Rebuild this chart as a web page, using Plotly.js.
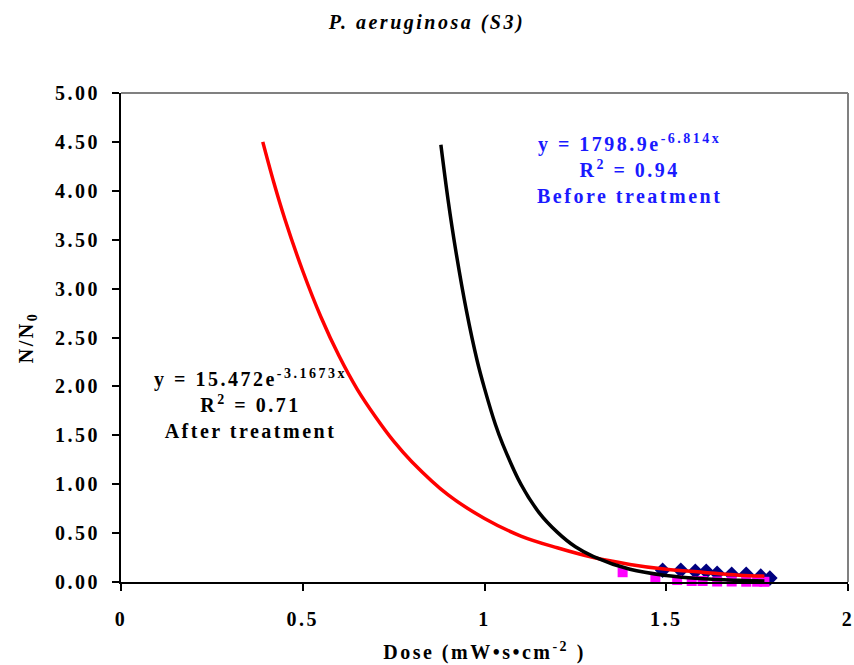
<!DOCTYPE html>
<html>
<head>
<meta charset="utf-8">
<script src="https://cdn.plot.ly/plotly-3.0.1.min.js"></script>
<style>
html,body{margin:0;padding:0;background:#fff;}
#chart{width:854px;height:665px;}
svg text{letter-spacing:2.5px;}
</style>
</head>
<body>
<div id="chart"></div>
<script>
const beforeX = [1.49, 1.54, 1.58, 1.61, 1.64, 1.68, 1.72, 1.76, 1.785];
const beforeY = [0.12, 0.12, 0.11, 0.11, 0.09, 0.08, 0.08, 0.06, 0.04];
const afterX = [1.38, 1.47, 1.53, 1.57, 1.60, 1.64, 1.68, 1.72, 1.75, 1.77];
const afterY = [0.10, 0.04, 0.02, 0.01, 0.01, 0.005, 0.005, 0.003, 0.003, 0.002];

// Trend lines
const trendAfterX = [0.39, 0.42, 0.45, 0.5, 0.55, 0.6, 0.65, 0.7, 0.75, 0.8, 0.9, 1.0, 1.1, 1.2, 1.3, 1.4, 1.5, 1.6, 1.7, 1.77];
const trendAfterY = [4.50, 4.09, 3.72, 3.18, 2.71, 2.31, 1.97, 1.69, 1.44, 1.23, 0.89, 0.65, 0.47, 0.35, 0.25, 0.18, 0.13, 0.10, 0.07, 0.06];
const trendBeforeX = [0.88, 0.9, 0.92, 0.95, 0.98, 1.0, 1.03, 1.05, 1.1, 1.15, 1.2, 1.25, 1.3, 1.4, 1.5, 1.6, 1.7, 1.77];
const trendBeforeY = [4.47, 3.90, 3.41, 2.78, 2.26, 1.98, 1.61, 1.41, 1.00, 0.71, 0.51, 0.36, 0.26, 0.13, 0.066, 0.033, 0.017, 0.010];

const xTicks = [0, 0.5, 1, 1.5, 2];
const xTickText = ['0', '0.5', '1', '1.5', '2'];
const yTicks = [0, 0.5, 1, 1.5, 2, 2.5, 3, 3.5, 4, 4.5, 5];
const yTickText = ['0.00', '0.50', '1.00', '1.50', '2.00', '2.50', '3.00', '3.50', '4.00', '4.50', '5.00'];

const serif = 'Liberation Serif, Times New Roman, serif';

const traces = [
  {x: beforeX, y: beforeY, mode: 'markers', type: 'scatter', cliponaxis: false,
   marker: {symbol: 'diamond', color: '#000080', size: 12}},
  {x: afterX, y: afterY, mode: 'markers', type: 'scatter', cliponaxis: false,
   marker: {symbol: 'square', color: '#FF00FF', size: 10}},
  {x: trendAfterX, y: trendAfterY, mode: 'lines', type: 'scatter',
   line: {color: '#FF0000', width: 3.5, shape: 'spline'}},
  {x: trendBeforeX, y: trendBeforeY, mode: 'lines', type: 'scatter',
   line: {color: '#000000', width: 3.5, shape: 'spline'}}
];

const layout = {
  width: 854, height: 665,
  margin: {l: 121, r: 6, t: 93, b: 83},
  paper_bgcolor: '#fff', plot_bgcolor: '#fff',
  showlegend: false,
  title: {text: '<b><i>P. aeruginosa (S3)</i></b>', x: 0.5, xref: 'container', xanchor: 'center',
          y: 0.967, yref: 'container', yanchor: 'middle',
          font: {family: serif, size: 20, color: '#000'}},
  xaxis: {range: [0, 2], tickvals: xTicks, ticktext: xTickText, showgrid: false, zeroline: false,
          showline: true, linecolor: '#000', linewidth: 2, ticks: 'outside', ticklen: 7, tickwidth: 2, tickcolor: '#000',
          ticklabelstandoff: 11, ticklabeloverflow: 'allow',
          tickfont: {family: serif, size: 20, color: '#000', weight: 'bold'},
          title: {text: '<b>Dose (mW•s•cm<sup>-2</sup> )</b>', standoff: 16, font: {family: serif, size: 20, color: '#000'}}},
  yaxis: {range: [0, 5], tickvals: yTicks, ticktext: yTickText, showgrid: false, zeroline: false,
          showline: true, linecolor: '#000', linewidth: 2, ticks: 'outside', ticklen: 7, tickwidth: 2, tickcolor: '#000',
          ticklabelstandoff: 8, ticklabeloverflow: 'allow',
          tickfont: {family: serif, size: 20, color: '#000', weight: 'bold'},
          title: {text: '<b>N/N<sub>0</sub></b>', standoff: 16, font: {family: serif, size: 20, color: '#000'}}},
  shapes: [
    {type: 'line', xref: 'paper', yref: 'paper', x0: 0, x1: 1, y0: 1, y1: 1, line: {color: '#808080', width: 2}},
    {type: 'line', xref: 'paper', yref: 'paper', x0: 1, x1: 1, y0: 0, y1: 1, line: {color: '#808080', width: 2}}
  ],
  annotations: [
    {xref: 'x', yref: 'y', x: 1.40, y: 4.22, showarrow: false, align: 'center',
     text: '<b>y = 1798.9e<sup>-6.814x</sup><br>R<sup>2</sup> = 0.94<br>Before treatment</b>',
     font: {family: serif, size: 20, color: '#1a1aff'}},
    {xref: 'x', yref: 'y', x: 0.355, y: 1.82, showarrow: false, align: 'center',
     text: '<b>y = 15.472e<sup>-3.1673x</sup><br>R<sup>2</sup> = 0.71<br>After treatment</b>',
     font: {family: serif, size: 20, color: '#000'}}
  ]
};

Plotly.newPlot('chart', traces, layout, {displayModeBar: false, staticPlot: true});
</script>
</body>
</html>
